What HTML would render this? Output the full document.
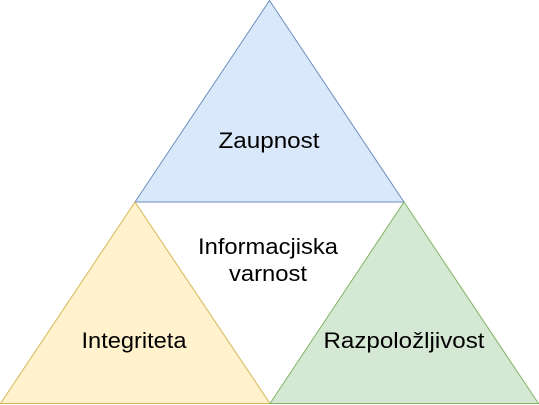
<!DOCTYPE html>
<html><head><style>body{margin:0;background:#fff}svg{display:block}</style></head>
<body>
<svg width="539" height="405" xmlns="http://www.w3.org/2000/svg" font-family="Liberation Sans, Helvetica, sans-serif" font-size="22" fill="#000">
<polygon points="269.5,0.5 135,202 404,202" fill="#dae8fc" stroke="#6c8ebf"/>
<polygon points="135,202 0.5,403.5 270,403.5" fill="#fff2cc" stroke="#d6b656"/>
<polygon points="404,202 270,403.5 538.5,403.5" fill="#d5e8d4" stroke="#82b366"/>
<g text-anchor="middle">
<text x="269" y="148" textLength="101" lengthAdjust="spacingAndGlyphs">Zaupnost</text>
<text x="268" y="254" textLength="140" lengthAdjust="spacingAndGlyphs">Informacjiska</text>
<text x="268" y="281" textLength="78" lengthAdjust="spacingAndGlyphs">varnost</text>
<text x="134" y="348" textLength="105" lengthAdjust="spacingAndGlyphs">Integriteta</text>
<text x="404" y="348" textLength="161" lengthAdjust="spacingAndGlyphs">Razpoložljivost</text>
</g>
</svg>
</body></html>
